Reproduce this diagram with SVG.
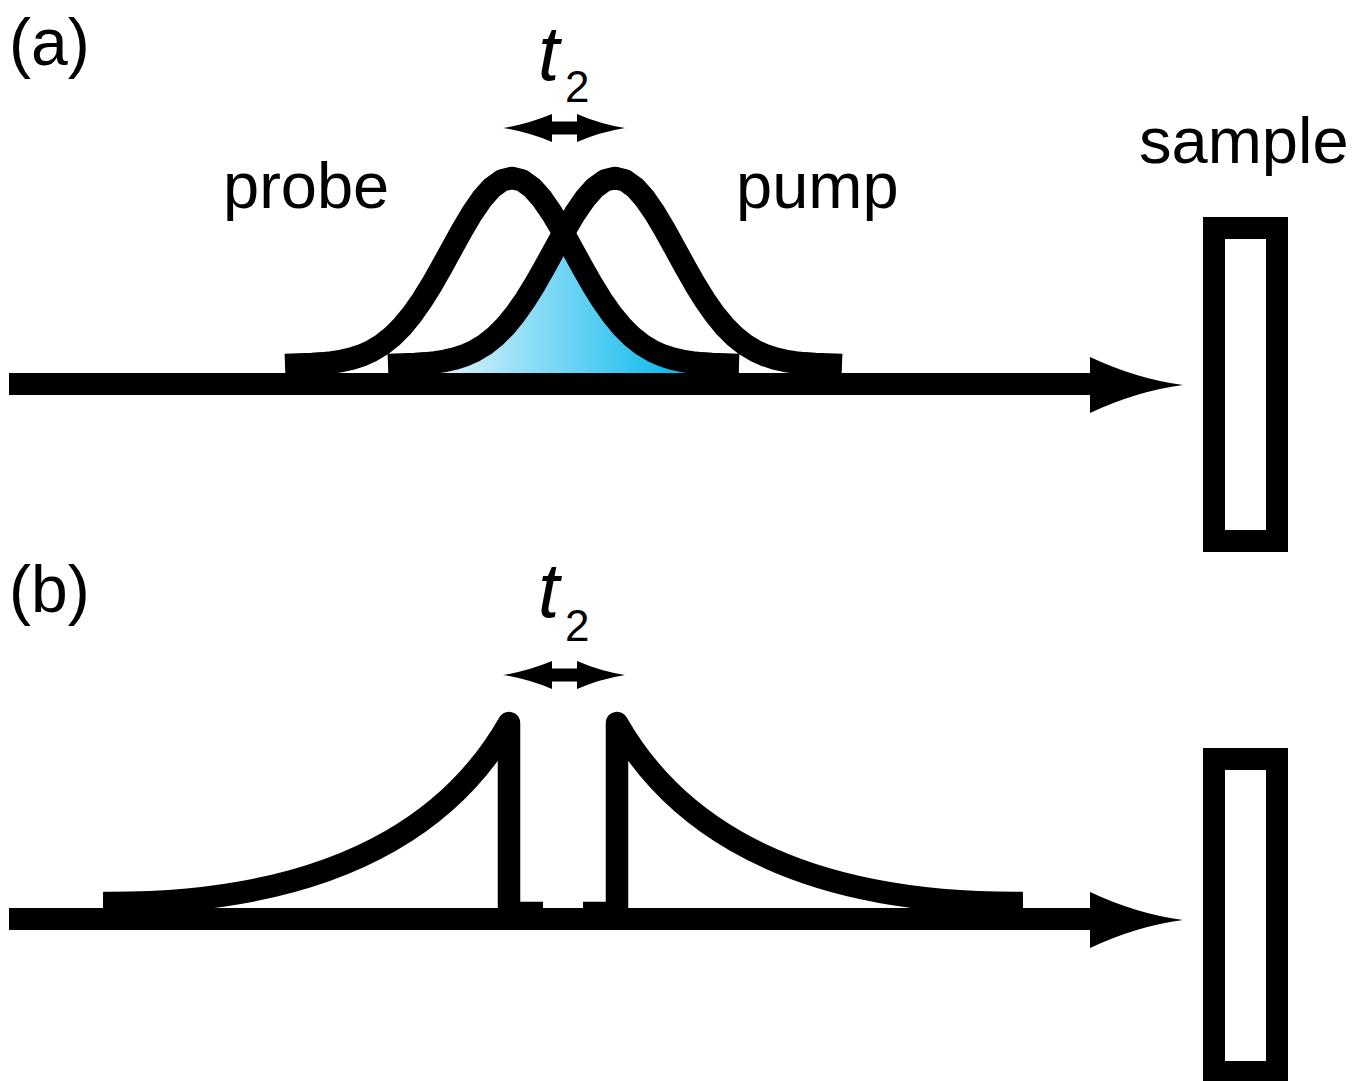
<svg xmlns="http://www.w3.org/2000/svg" xmlns:xlink="http://www.w3.org/1999/xlink" width="1358" height="1081" viewBox="0 0 1358 1081">
<style>
.txt{font-family:"Liberation Sans",Arial,sans-serif;fill:#000}
.lbl{font-size:66px}
.word{font-size:65px}
.t{font-size:77px;font-style:italic}
.sub{font-size:44px}
.pulse{fill:none;stroke:#000;stroke-width:22.5;stroke-linecap:butt;stroke-linejoin:round}
.axis{fill:none;stroke:#000;stroke-width:22}
.samp{fill:none;stroke:#000;stroke-width:22}
</style>
<defs>
<linearGradient id="blue" gradientUnits="userSpaceOnUse" x1="430" y1="0" x2="690" y2="0">
<stop offset="0" stop-color="#e8f6fd"/>
<stop offset="1" stop-color="#00b5ec"/>
</linearGradient>
<path id="gauss" d="M-227,0 L-213,-0.49 L-200,-0.99 L-190,-1.65 L-180,-2.67 L-170,-4.23 L-160,-6.52 L-150,-9.79 L-140,-14.32 L-130,-20.4 L-120,-28.31 L-110,-38.28 L-100,-50.41 L-90,-64.66 L-80,-80.8 L-70,-98.37 L-60,-116.65 L-50,-134.74 L-40,-151.62 L-30,-166.19 L-20,-177.45 L-10,-184.57 L0,-187 L10,-184.57 L20,-177.45 L30,-166.19 L40,-151.62 L50,-134.74 L60,-116.65 L70,-98.37 L80,-80.8 L90,-64.66 L100,-50.41 L110,-38.28 L120,-28.31 L130,-20.4 L140,-14.32 L150,-9.79 L160,-6.52 L170,-4.23 L180,-2.67 L190,-1.65 L200,-0.99 L213,-0.49 L227,0"/>
<path id="head" d="M1090,-28 Q1137,-6 1183,0 Q1137,6 1090,28 Z"/>
<g id="dbl">
<path d="M503,128 Q528,124 552,114 L552,142 Q528,132 503,128 Z"/>
<rect x="550" y="121.5" width="29" height="13"/>
<path d="M625,128 Q600,124 577,114 L577,142 Q600,132 625,128 Z"/>
</g>
<path id="expo" d="M103,903 C370,905 468,795 509,723 L509,913 L543,913"/>
</defs>

<g id="labels">
<text class="txt lbl" x="9" y="65">(a)</text>
<text class="txt lbl" x="9" y="612">(b)</text>
</g>

<g id="node-a-overlap">
<path d="M388,367 L415,364.01 L425,363.35 L435,362.33 L445,360.77 L455,358.48 L465,355.21 L475,350.68 L485,344.6 L495,336.69 L505,326.72 L515,314.59 L525,300.34 L535,284.2 L545,266.63 L555,248.35 L563.5,232.9 L572,248.35 L582,266.63 L592,284.2 L602,300.34 L612,314.59 L622,326.72 L632,336.69 L642,344.6 L652,350.68 L662,355.21 L672,358.48 L682,360.77 L692,362.33 L702,363.35 L712,364.01 L739,365 L739,378 L388,378 Z" fill="url(#blue)"/>
</g>

<g id="connectors">
<line class="axis" x1="9" y1="384" x2="1100" y2="384"/>
<use xlink:href="#head" href="#head" transform="translate(0,385)"/>
<line class="axis" x1="9" y1="919" x2="1100" y2="919"/>
<use xlink:href="#head" href="#head" transform="translate(0,920)"/>
<use xlink:href="#dbl" href="#dbl"/>
<use xlink:href="#dbl" href="#dbl" transform="translate(0,547)"/>
</g>

<g id="node-a-probe">
<use xlink:href="#gauss" href="#gauss" class="pulse" transform="translate(512,365)"/>
<text class="txt word" x="223" y="208">probe</text>
</g>
<g id="node-a-pump">
<use xlink:href="#gauss" href="#gauss" class="pulse" transform="translate(615,365)"/>
<text class="txt word" x="736" y="208">pump</text>
</g>
<g id="node-a-t2">
<text class="txt t" x="538" y="80">t</text>
<text class="txt sub" x="565" y="102">2</text>
</g>
<g id="node-a-sample">
<text class="txt word" x="1139" y="163">sample</text>
<rect class="samp" x="1214" y="228" width="63" height="313"/>
</g>

<g id="node-b-probe">
<use xlink:href="#expo" href="#expo" class="pulse"/>
</g>
<g id="node-b-pump">
<use xlink:href="#expo" href="#expo" class="pulse" transform="translate(1126,0) scale(-1,1)"/>
</g>
<g id="node-b-t2">
<text class="txt t" x="538" y="617">t</text>
<text class="txt sub" x="565" y="641">2</text>
</g>
<g id="node-b-sample">
<rect class="samp" x="1214" y="759" width="63" height="313"/>
</g>
</svg>
